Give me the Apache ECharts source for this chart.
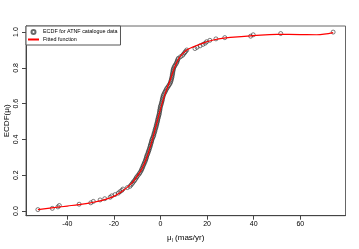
<!DOCTYPE html>
<html><head><meta charset="utf-8">
<script src="https://cdn.jsdelivr.net/npm/echarts@6/dist/echarts.min.js"></script>
<style>html,body{margin:0;padding:0;background:#fff}#c{width:359px;height:249px}</style>
</head><body><div id="c"></div>
<script>
// ECDF points (x = proper motion, y = ECDF value)
const ecdfX = [-52.6,-46.4,-44.0,-43.4,-34.9,-29.9,-28.8,-25.9,-23.9,-21.6,-20.9,-19.5,
  -18.1,-17.4,-16.6,-16.1,-14.2,-13.1,-12.6,-12.1,-11.7,-11.2,-10.8,-10.4,-10.1,-9.6,
  -9.1,-8.8,-8.4,-8.1,-7.9,-7.6,-7.4,-7.1,-6.9,-6.6,-6.4,-6.2,-6.0,-5.9,-5.6,-5.4,
  -5.2,-5.0,-4.8,-4.6,-4.4,-4.3,-4.1,-3.9,-3.8,-3.6,-3.4,-3.1,-2.9,-2.8,-2.6,-2.4,
  -2.3,-2.1,-1.9,-1.8,-1.6,-1.5,-1.3,-1.2,-1.1,-0.9,-0.8,-0.6,-0.5,-0.4,-0.3,-0.2,
  -0.1,0.0,0.2,0.4,0.5,0.7,0.8,0.9,1.1,1.2,1.5,1.8,2.1,2.4,2.7,3.1,3.5,3.9,4.2,4.4,
  4.6,4.7,4.9,5.0,5.1,5.2,5.3,5.4,5.5,5.7,6.0,6.3,6.7,7.0,7.2,7.4,7.7,8.6,9.4,9.9,
  10.4,10.8,11.3,14.8,15.7,17.0,18.2,19.2,19.8,21.2,23.8,27.6,38.7,39.8,51.6,74.1];
const ecdfY = [0.008,0.015,0.023,0.031,0.038,0.046,0.054,0.062,0.069,0.077,0.085,0.092,
  0.100,0.108,0.115,0.123,0.131,0.138,0.146,0.154,0.162,0.169,0.177,0.185,0.192,0.200,
  0.208,0.215,0.223,0.231,0.238,0.246,0.254,0.262,0.269,0.277,0.285,0.292,0.300,0.308,0.315,0.323,
  0.331,0.338,0.346,0.354,0.362,0.369,0.377,0.385,0.392,0.400,0.408,0.415,0.423,0.431,0.438,0.446,
  0.454,0.462,0.469,0.477,0.485,0.492,0.500,0.508,0.515,0.523,0.531,0.538,0.546,0.554,0.562,0.569,
  0.577,0.585,0.592,0.600,0.608,0.615,0.623,0.631,0.638,0.646,0.654,0.662,0.669,0.677,0.685,0.692,0.700,0.708,0.715,0.723,
  0.731,0.738,0.746,0.754,0.762,0.769,0.777,0.785,0.792,0.800,0.808,0.815,0.823,0.831,0.838,0.846,0.854,0.862,0.869,0.877,
  0.885,0.892,0.900,0.908,0.915,0.923,0.931,0.938,0.946,0.954,0.962,0.969,0.977,0.985,0.992,1.000];
// Fitted function
const fitX = [-52.6,-45,-40,-35,-30,-25,-20,-17,-14,-12,-10,-8,-6,-4,-2,0,2,4,6,8,10,12,15,18,21,25,30,40,50,60,67,74.1];
const fitY = [0.008,0.02,0.028,0.036,0.046,0.06,0.082,0.105,0.135,0.16,0.195,0.235,0.295,0.375,0.47,0.57,0.655,0.725,0.8,0.855,0.885,0.905,0.922,0.937,0.95,0.962,0.97,0.98,0.987,0.986,0.985,0.997];
const xTicks = [-40,-20,0,20,40,60];
const yTicks = [0,0.2,0.4,0.6,0.8,1.0];

const F = 'Liberation Sans, Arial, sans-serif';
const chart = echarts.init(document.getElementById('c'), null, {renderer:'canvas'});
chart.setOption({
  animation:false,
  backgroundColor:'#fff',
  grid:{left:26,right:13.5,top:26,bottom:33.3,show:true,borderColor:'#666',borderWidth:1,
    backgroundColor:'transparent',containLabel:false,outerBoundsMode:'none'},
  legend:{
    left:26, top:26, orient:'vertical', itemGap:2, itemWidth:11, itemHeight:4,
    padding:[3,3,3,1], borderColor:'#555', borderWidth:1, backgroundColor:'#fff',
    textStyle:{fontFamily:F,fontSize:5.4,color:'#000',padding:[0,0,0,-1]},
    data:[{name:'ECDF for ATNF catalogue data',icon:'emptyCircle',itemStyle:{color:'#444',borderColor:'#444',borderWidth:0.7}},
          {name:'Fitted function',itemStyle:{opacity:0}}]
  },
  xAxis:{type:'value',min:-57.7,max:79.4,
    axisLine:{show:true,onZero:false,lineStyle:{color:'#444',width:1}},
    splitLine:{show:false},
    axisTick:{show:true,length:4,customValues:xTicks,lineStyle:{color:'#444'}},
    axisLabel:{customValues:xTicks,fontFamily:F,fontSize:7,color:'#000',margin:5},
    name:'{a|μ}{s|l}{a| (mas/yr)}',nameLocation:'middle',nameGap:18,
    nameTextStyle:{rich:{a:{fontFamily:F,fontSize:8,color:'#000'},s:{fontFamily:F,fontSize:5,color:'#000',verticalAlign:'bottom',padding:[4,0,0,0]}}}
  },
  yAxis:{type:'value',min:-0.026,max:1.034,
    axisLine:{show:true,onZero:false,lineStyle:{color:'#444',width:1}},
    splitLine:{show:false},
    axisTick:{show:true,length:4,customValues:yTicks,lineStyle:{color:'#444'}},
    axisLabel:{customValues:yTicks,fontFamily:F,fontSize:7,color:'#000',margin:6,rotate:90,
      align:'center',verticalAlign:'bottom',formatter:v=>v.toFixed(1)},
    name:'{a|ECDF(μ}{s|l}{a|)}',nameLocation:'middle',nameGap:15,nameMoveOverlap:false,
    nameTextStyle:{rich:{a:{fontFamily:F,fontSize:8,color:'#000'},s:{fontFamily:F,fontSize:5,color:'#000',verticalAlign:'bottom',padding:[4,0,0,0]}}}
  },
  series:[
    {name:'ECDF for ATNF catalogue data',type:'scatter',symbol:'circle',symbolSize:4,
     itemStyle:{color:'rgba(255,255,255,0)',borderColor:'#333',borderWidth:0.8},
     data:ecdfX.map((x,i)=>[x,ecdfY[i]]),z:2},
    {name:'Fitted function',type:'line',smooth:0.4,symbol:'none',showSymbol:false,
     lineStyle:{color:'#ff0000',width:1.2},itemStyle:{color:'#ff0000'},
     data:fitX.map((x,i)=>[x,fitY[i]]),z:3}
  ]
});
</script></body></html>
